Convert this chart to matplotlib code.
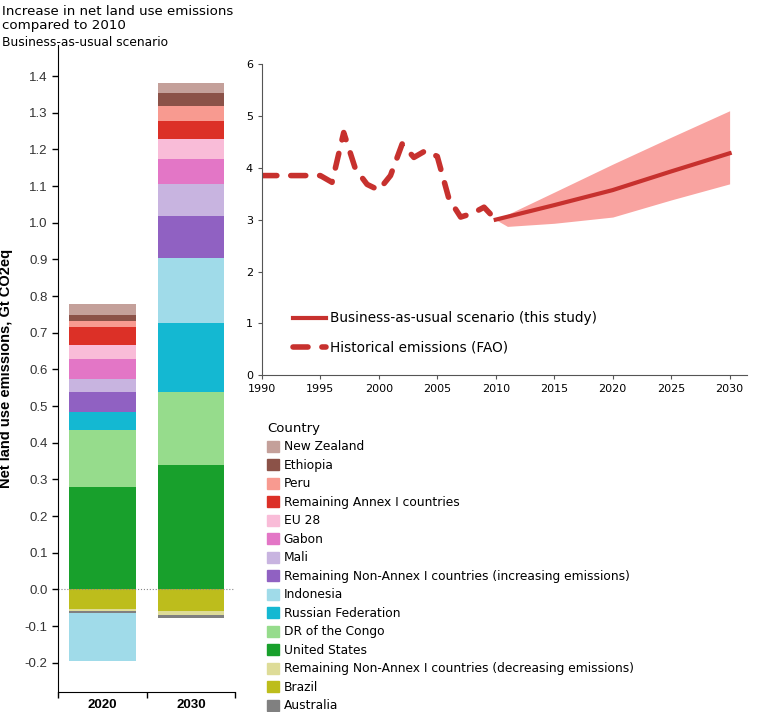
import numpy as np
import matplotlib as mpl
import matplotlib.pyplot as plt
from matplotlib.patches import Patch

mpl.use('agg')
mpl.rcParams['axes.unicode_minus'] = False
mpl.rcParams['font.family'] = ['DejaVu Sans']

############################################################
# data
############################################################
countries = [
    'New Zealand', 'Ethiopia', 'Peru', 'Remaining Annex I countries',
    'EU 28', 'Gabon', 'Mali',
    'Remaining Non-Annex I countries (increasing emissions)',
    'Indonesia', 'Russian Federation', 'DR of the Congo', 'United States',
    'Remaining Non-Annex I countries (decreasing emissions)',
    'Brazil', 'Australia',
]
colors = [
    '#c4a09a', '#8b5248', '#f89a90', '#dc3027',
    '#f9bcd8', '#e376c6', '#c8b4e0', '#9061c2',
    '#a0dbe9', '#14b8d2', '#96dc8c', '#18a02c',
    '#dedc98', '#bdbd1c', '#808080',
]
v2020 = [0.028, 0.016, 0.017, 0.050, 0.039, 0.053, 0.035, 0.056,
         -0.130, 0.047, 0.156, 0.280, -0.006, -0.053, -0.006]
v2030 = [0.027, 0.034, 0.041, 0.050, 0.054, 0.068, 0.088, 0.113,
         0.178, 0.188, 0.201, 0.338, -0.012, -0.059, -0.007]
years_bar = ['2020', '2030']

# stacking order (from zero outward)
stack_up = countries[:12][::-1]
stack_down = ['Brazil',
              'Remaining Non-Annex I countries (decreasing emissions)',
              'Australia', 'Indonesia']

hist_years = np.arange(1990, 2011)
hist_vals = [3.85, 3.85, 3.85, 3.85, 3.85, 3.85, 3.72, 4.68, 3.98, 3.68,
             3.57, 3.85, 4.46, 4.20, 4.33, 4.22, 3.40, 3.05, 3.12, 3.24,
             3.00]
bau_years = [2010, 2015, 2020, 2025, 2030]
bau_vals = [3.00, 3.28, 3.57, 3.93, 4.28]
band_years = [2010, 2011, 2015, 2020, 2025, 2030]
band_low = [3.00, 2.87, 2.93, 3.05, 3.38, 3.69]
band_high = [3.00, 3.10, 3.53, 4.07, 4.59, 5.10]

############################################################
fig = plt.figure(figsize=(7.84, 7.12), dpi=100)

########################################
# stacked bars
########################################
ax = fig.add_axes([0.074, 0.028, 0.226, 0.909])
vals = {'2020': dict(zip(countries, v2020)),
        '2030': dict(zip(countries, v2030))}
cmap = dict(zip(countries, colors))
xpos = [0.5, 1.5]
for x, yr in zip(xpos, years_bar):
    b = 0.0
    for name in stack_up:
        v = vals[yr][name]
        if v > 0:
            ax.bar(x, v, 0.75, bottom=b, color=cmap[name], linewidth=0)
            b += v
    b = 0.0
    for name in stack_down:
        v = vals[yr][name]
        if v < 0:
            ax.bar(x, v, 0.75, bottom=b, color=cmap[name], linewidth=0)
            b += v

ax.axhline(0, color='#888888', lw=0.8, ls=':')
ax.set_xlim(0, 2)
ax.set_ylim(-0.28, 1.485)
ax.set_yticks(np.arange(-0.2, 1.41, 0.1))
ax.set_yticklabels(['%.1f' % t for t in np.arange(-0.2, 1.41, 0.1)],
                   family='Liberation Sans', fontsize=9.5, color='#333333')
ax.set_xticks([0, 1, 2])
ax.set_xticklabels([])
ax.set_xticks(xpos, minor=True)
ax.set_xticklabels(years_bar, minor=True, family='Liberation Sans',
                   fontsize=9.5, fontweight='bold')
ax.tick_params(axis='x', which='minor', length=0, pad=5)
ax.tick_params(axis='both', which='major', length=4, width=1, direction='out')
for s in ['top', 'right']:
    ax.spines[s].set_visible(False)
ax.set_ylabel('Net land use emissions, Gt CO2eq', family='Liberation Sans',
              fontsize=10.5, fontweight='bold', labelpad=8)

fig.text(0.003, 0.993, 'Increase in net land use emissions\ncompared to 2010',
         fontsize=9.6, va='top', ha='left', linespacing=1.15)
fig.text(0.003, 0.950, 'Business-as-usual scenario', fontsize=8.8,
         va='top', ha='left')

handles = [Patch(color=c, label=n) for n, c in zip(countries, colors)]
leg = fig.legend(handles=handles, loc='upper left',
                 bbox_to_anchor=(0.333, 0.416), frameon=False,
                 title='Country', fontsize=8.8, title_fontsize=9.5,
                 handlelength=1.0, handleheight=1.0, handletextpad=0.35,
                 labelspacing=0.45, borderpad=0)
leg._legend_box.align = 'left'

########################################
# emission path
########################################
ax2 = fig.add_axes([0.334, 0.473, 0.619, 0.437])
ax2.fill_between(band_years, band_low, band_high, color='#f9a3a0',
                 linewidth=0)
ax2.plot(bau_years, bau_vals, color='#c7312e', lw=3,
         label='Business-as-usual scenario (this study)')
ax2.plot(hist_years, hist_vals, color='#c7312e', lw=4, ls=(0, (2.7, 2.5)),
         dash_capstyle='round', label='Historical emissions (FAO)')
ax2.set_xlim(1990, 2031.5)
ax2.set_ylim(0, 6)
ax2.set_xticks(np.arange(1990, 2031, 5))
ax2.set_yticks(np.arange(0, 7, 1))
ax2.tick_params(labelsize=8, length=3, color='#555555', direction='out')
for s in ['top', 'right']:
    ax2.spines[s].set_visible(False)
for s in ['left', 'bottom']:
    ax2.spines[s].set_color('#555555')
ax2.legend(loc='lower left', bbox_to_anchor=(0.05, 0.045), frameon=False,
           fontsize=9.8, handlelength=2.4, handletextpad=0.3,
           labelspacing=1.1, borderpad=0)

plt.savefig('out.png')
